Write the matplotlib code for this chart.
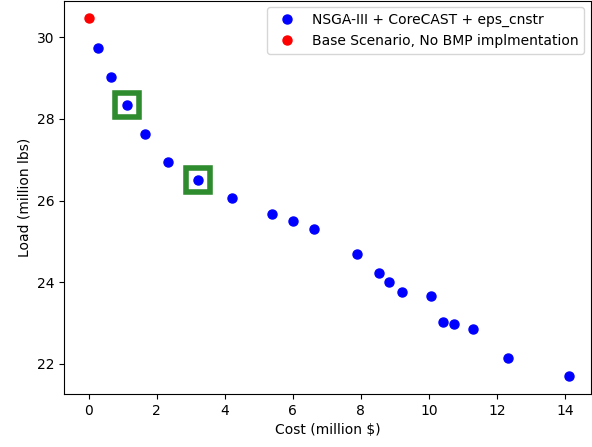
import matplotlib
matplotlib.use("Agg")
import matplotlib.pyplot as plt

cost = [0.27, 0.66, 1.12, 1.66, 2.33, 3.23, 4.21, 5.40, 6.00, 6.62, 7.88, 8.53,
        8.82, 9.21, 10.05, 10.41, 10.73, 11.30, 12.33, 14.12]
load = [29.73, 29.03, 28.33, 27.62, 26.94, 26.50, 26.06, 25.67, 25.50, 25.30, 24.69, 24.23,
        24.00, 23.76, 23.65, 23.02, 22.97, 22.85, 22.14, 21.70]
base_cost = [0.0]
base_load = [30.47]
highlight_idx = [2, 5]

W, H = 592, 447
fig = plt.figure(figsize=(W / 100, H / 100), dpi=100)
left, right, bottom, top = 64, 591, 394, 0.5
ax = fig.add_axes([left / W, (H - bottom) / H, (right - left) / W, (bottom - top) / H])

ax.plot(cost, load, 'o', color='blue', markersize=6.5, linestyle='none',
        label='NSGA-III + CoreCAST + eps_cnstr')
ax.plot(base_cost, base_load, 'o', color='red', markersize=6.5, linestyle='none',
        label='Base Scenario, No BMP implmentation')
ax.plot([cost[i] for i in highlight_idx], [load[i] for i in highlight_idx], 's',
        markerfacecolor='none', markeredgecolor='#2e8b2e', markersize=17.5,
        markeredgewidth=4, linestyle='none')

ax.set_xlim(-0.72, 14.76)
ax.set_ylim(21.26, 30.9)
ax.set_xticks([0, 2, 4, 6, 8, 10, 12, 14])
ax.set_yticks([22, 24, 26, 28, 30])
ax.set_xlabel('Cost (million \\$)')
ax.set_ylabel('Load (million lbs)')
ax.legend(loc='upper right')

fig.savefig('out.png', dpi=100)
